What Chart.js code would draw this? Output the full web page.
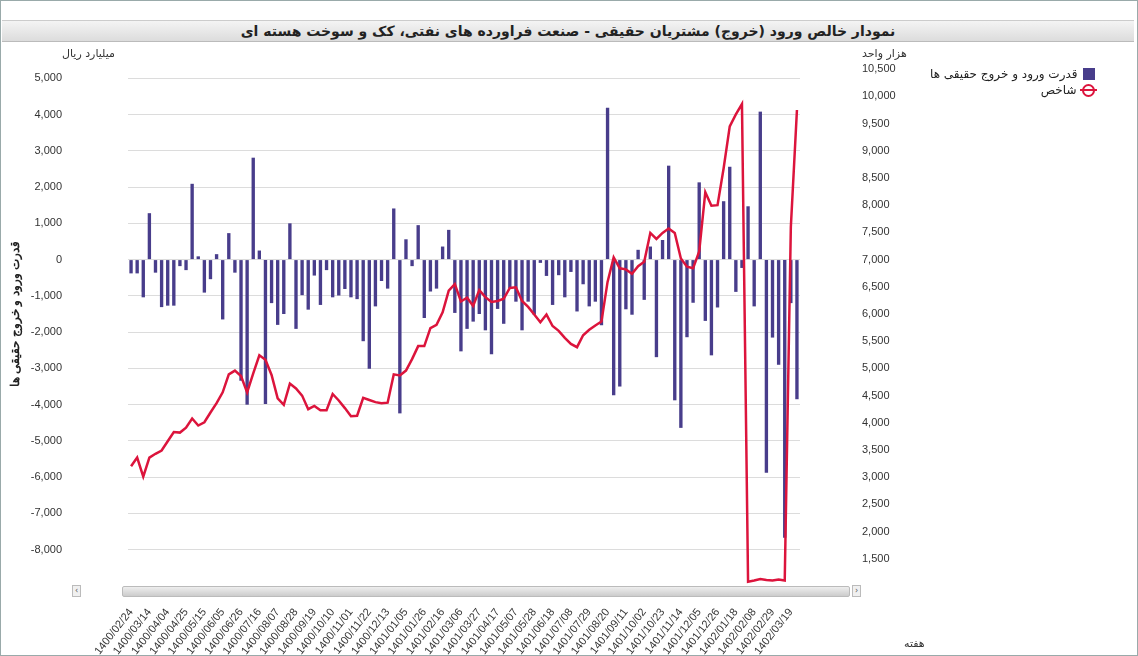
<!DOCTYPE html>
<html>
<head>
<meta charset="utf-8">
<script src="https://cdn.jsdelivr.net/npm/chart.js@4/dist/chart.umd.min.js"></script>
<style>
  body { margin: 0; width: 1138px; height: 656px; background: #fff; font-family: Tahoma, "DejaVu Sans", sans-serif; overflow: hidden; }
  #frame { position: absolute; left: 0; top: 0; width: 1136px; height: 654px; border: 1px solid #9aa; }
  #title { position: absolute; left: 2px; top: 20px; width: 1132px; height: 20px; background: linear-gradient(#f4f4f4, #dcdcdc); border-top: 1px solid #ccc; border-bottom: 1px solid #bbb; text-align: center; font-weight: bold; font-size: 14px; line-height: 20px; color: #222; direction: rtl; }
  #c { position: absolute; left: 0; top: 40px; }
  .unit { position: absolute; font-size: 11px; color: #333; direction: rtl; }
  #legend { position: absolute; left: 930px; top: 66px; font-size: 12px; color: #222; direction: rtl; }
  #legend div { display: flex; align-items: center; gap: 6px; height: 16px; }
  .sw { width: 12px; height: 12px; background: #483d8b; display: inline-block; }
  .ci { width: 9px; height: 9px; border: 2px solid #dc143c; border-radius: 50%; display: inline-block; position: relative; }
  .ci::after { content: ''; position: absolute; left: -4px; right: -4px; top: 3.5px; height: 2px; background: #dc143c; }
  #scroll { position: absolute; left: 122px; top: 586px; width: 726px; height: 9px; background: linear-gradient(#eee, #ccc); border: 1px solid #bbb; border-radius: 2px; }
  .arr { position: absolute; top: 585px; width: 7px; height: 10px; border: 1px solid #bbb; background: #f0f0f0; font-size: 8px; line-height: 10px; text-align: center; color: #555; }
</style>
</head>
<body>
<div id="frame"></div>
<div id="title">نمودار خالص ورود (خروج) مشتریان حقیقی - صنعت فراورده های نفتی، کک و سوخت هسته ای</div>
<canvas id="c" width="1138" height="616"></canvas>
<div class="unit" style="left:62px;top:47px">میلیارد ریال</div>
<div class="unit" style="left:862px;top:47px">هزار واحد</div>
<div class="unit" style="left:904px;top:637px">هفته</div>
<div id="legend">
  <div><span class="sw"></span><span>قدرت ورود و خروج حقیقی ها</span></div>
  <div><span class="ci"></span><span>شاخص</span></div>
</div>
<div class="arr" style="left:72px">‹</div>
<div id="scroll"></div>
<div class="arr" style="left:852px">›</div>
<script>
// برچسب هر سه هفته
const tickLabels = ["1400/02/24","1400/03/14","1400/04/04","1400/04/25","1400/05/15","1400/06/05","1400/06/26","1400/07/16","1400/08/07","1400/08/28","1400/09/19","1400/10/10","1400/11/01","1400/11/22","1400/12/13","1401/01/05","1401/01/26","1401/02/16","1401/03/06","1401/03/27","1401/04/17","1401/05/07","1401/05/28","1401/06/18","1401/07/08","1401/07/29","1401/08/20","1401/09/11","1401/10/02","1401/10/23","1401/11/14","1401/12/05","1401/12/26","1402/01/18","1402/02/08","1402/02/29","1402/03/19"];

// قدرت ورود و خروج حقیقی ها (میلیارد ریال)
const flow = [-380,-380,-1040,1280,-360,-1310,-1270,-1270,-180,-290,2090,90,-910,-540,150,-1650,730,-360,-3340,-4000,
  2810,250,-3980,-1200,-1800,-1500,1000,-1910,-980,-1380,-440,-1250,-290,-1040,-990,-810,-1040,-1090,-2250,-3010,
  -1290,-590,-800,1410,-4240,560,-180,950,-1610,-880,-800,360,820,-1470,-2530,-1910,-1710,-1500,-1950,-2610,
  -1360,-1770,-790,-1160,-1950,-1160,-1520,-90,-450,-1250,-430,-1040,-340,-1430,-680,-1290,-1160,-1810,4190,-3740,
  -3500,-1370,-1520,270,-1110,360,-2690,540,2590,-3880,-4640,-2140,-1190,2130,-1690,-2640,-1320,1610,2560,-890,
  -230,1470,-1290,4080,-5880,-2150,-2900,-7670,-1200,-3850];

// شاخص (هزار واحد)
const index = [3200,3360,3010,3360,3430,3490,3660,3830,3820,3910,4080,3950,4010,4190,4360,4560,4890,4960,4860,4560,
  4910,5240,5160,4880,4450,4330,4720,4630,4500,4250,4310,4230,4230,4530,4410,4270,4120,4130,4460,4420,
  4380,4360,4370,4890,4870,4960,5170,5410,5410,5740,5800,6030,6430,6550,6230,6300,6150,6440,6310,6220,
  6240,6280,6480,6490,6240,6130,5990,5850,5990,5780,5690,5560,5450,5390,5610,5710,5790,5860,6590,7040,
  6840,6820,6740,6880,6960,7490,7380,7490,7570,7490,7020,6870,6840,7150,8240,7990,8000,8680,9450,9670,
  9860,1080,1100,1130,1110,1100,1120,1100,7600,9750];

const labels = flow.map((_, i) => (i % 3 === 0 && tickLabels[i / 3]) ? tickLabels[i / 3] : '');

const fmt = v => Number(v).toLocaleString('en-US');

new Chart(document.getElementById('c'), {
  data: {
    labels: labels,
    datasets: [
      { type: 'line', label: 'شاخص', data: index, yAxisID: 'y1', borderColor: '#dc143c', borderWidth: 2.5,
        pointRadius: 0, tension: 0, order: 0 },
      { type: 'bar', label: 'قدرت ورود و خروج حقیقی ها', data: flow, yAxisID: 'y', backgroundColor: '#483d8b',
        barPercentage: 0.55, categoryPercentage: 1, order: 1 }
    ]
  },
  options: {
    responsive: false, animation: false,
    layout: { padding: { left: 4, right: 196, top: 2, bottom: 0 } },
    plugins: { legend: { display: false }, tooltip: { enabled: false } },
    scales: {
      x: {
        afterFit: s => { s.height = 70; s.paddingLeft = 0; s.paddingRight = 0; },
        grid: { display: false }, border: { display: false },
        ticks: { autoSkip: false, maxRotation: 52, minRotation: 52, color: '#333', font: { size: 11 },
          padding: 12, callback: function (v) { return labels[v]; } }
      },
      y: {
        position: 'left', min: -9000, max: 6000,
        afterFit: s => { s.width = 124; s.paddingTop = 0; s.paddingBottom = 0; },
        ticks: { stepSize: 1000, color: '#333', font: { size: 11 }, padding: 66,
          callback: v => (v <= -9000 || v >= 6000) ? '' : fmt(v) },
        grid: { drawTicks: false, color: c => (c.tick && (c.tick.value <= -9000 || c.tick.value >= 6000)) ? 'rgba(0,0,0,0)' : '#dcdcdc' },
        border: { display: false },
        title: { display: true, text: 'قدرت ورود و خروج حقیقی ها', color: '#222', font: { size: 12, weight: 'bold' } }
      },
      y1: {
        position: 'right', min: 1000, max: 11000,
        afterFit: s => { s.width = 142; s.paddingTop = 0; s.paddingBottom = 0; },
        ticks: { stepSize: 500, color: '#333', font: { size: 11 }, padding: 62,
          callback: v => (v <= 1000 || v >= 11000) ? '' : fmt(v) },
        grid: { display: false, drawTicks: false }, border: { display: false }
      }
    }
  }
});
</script>
</body>
</html>
